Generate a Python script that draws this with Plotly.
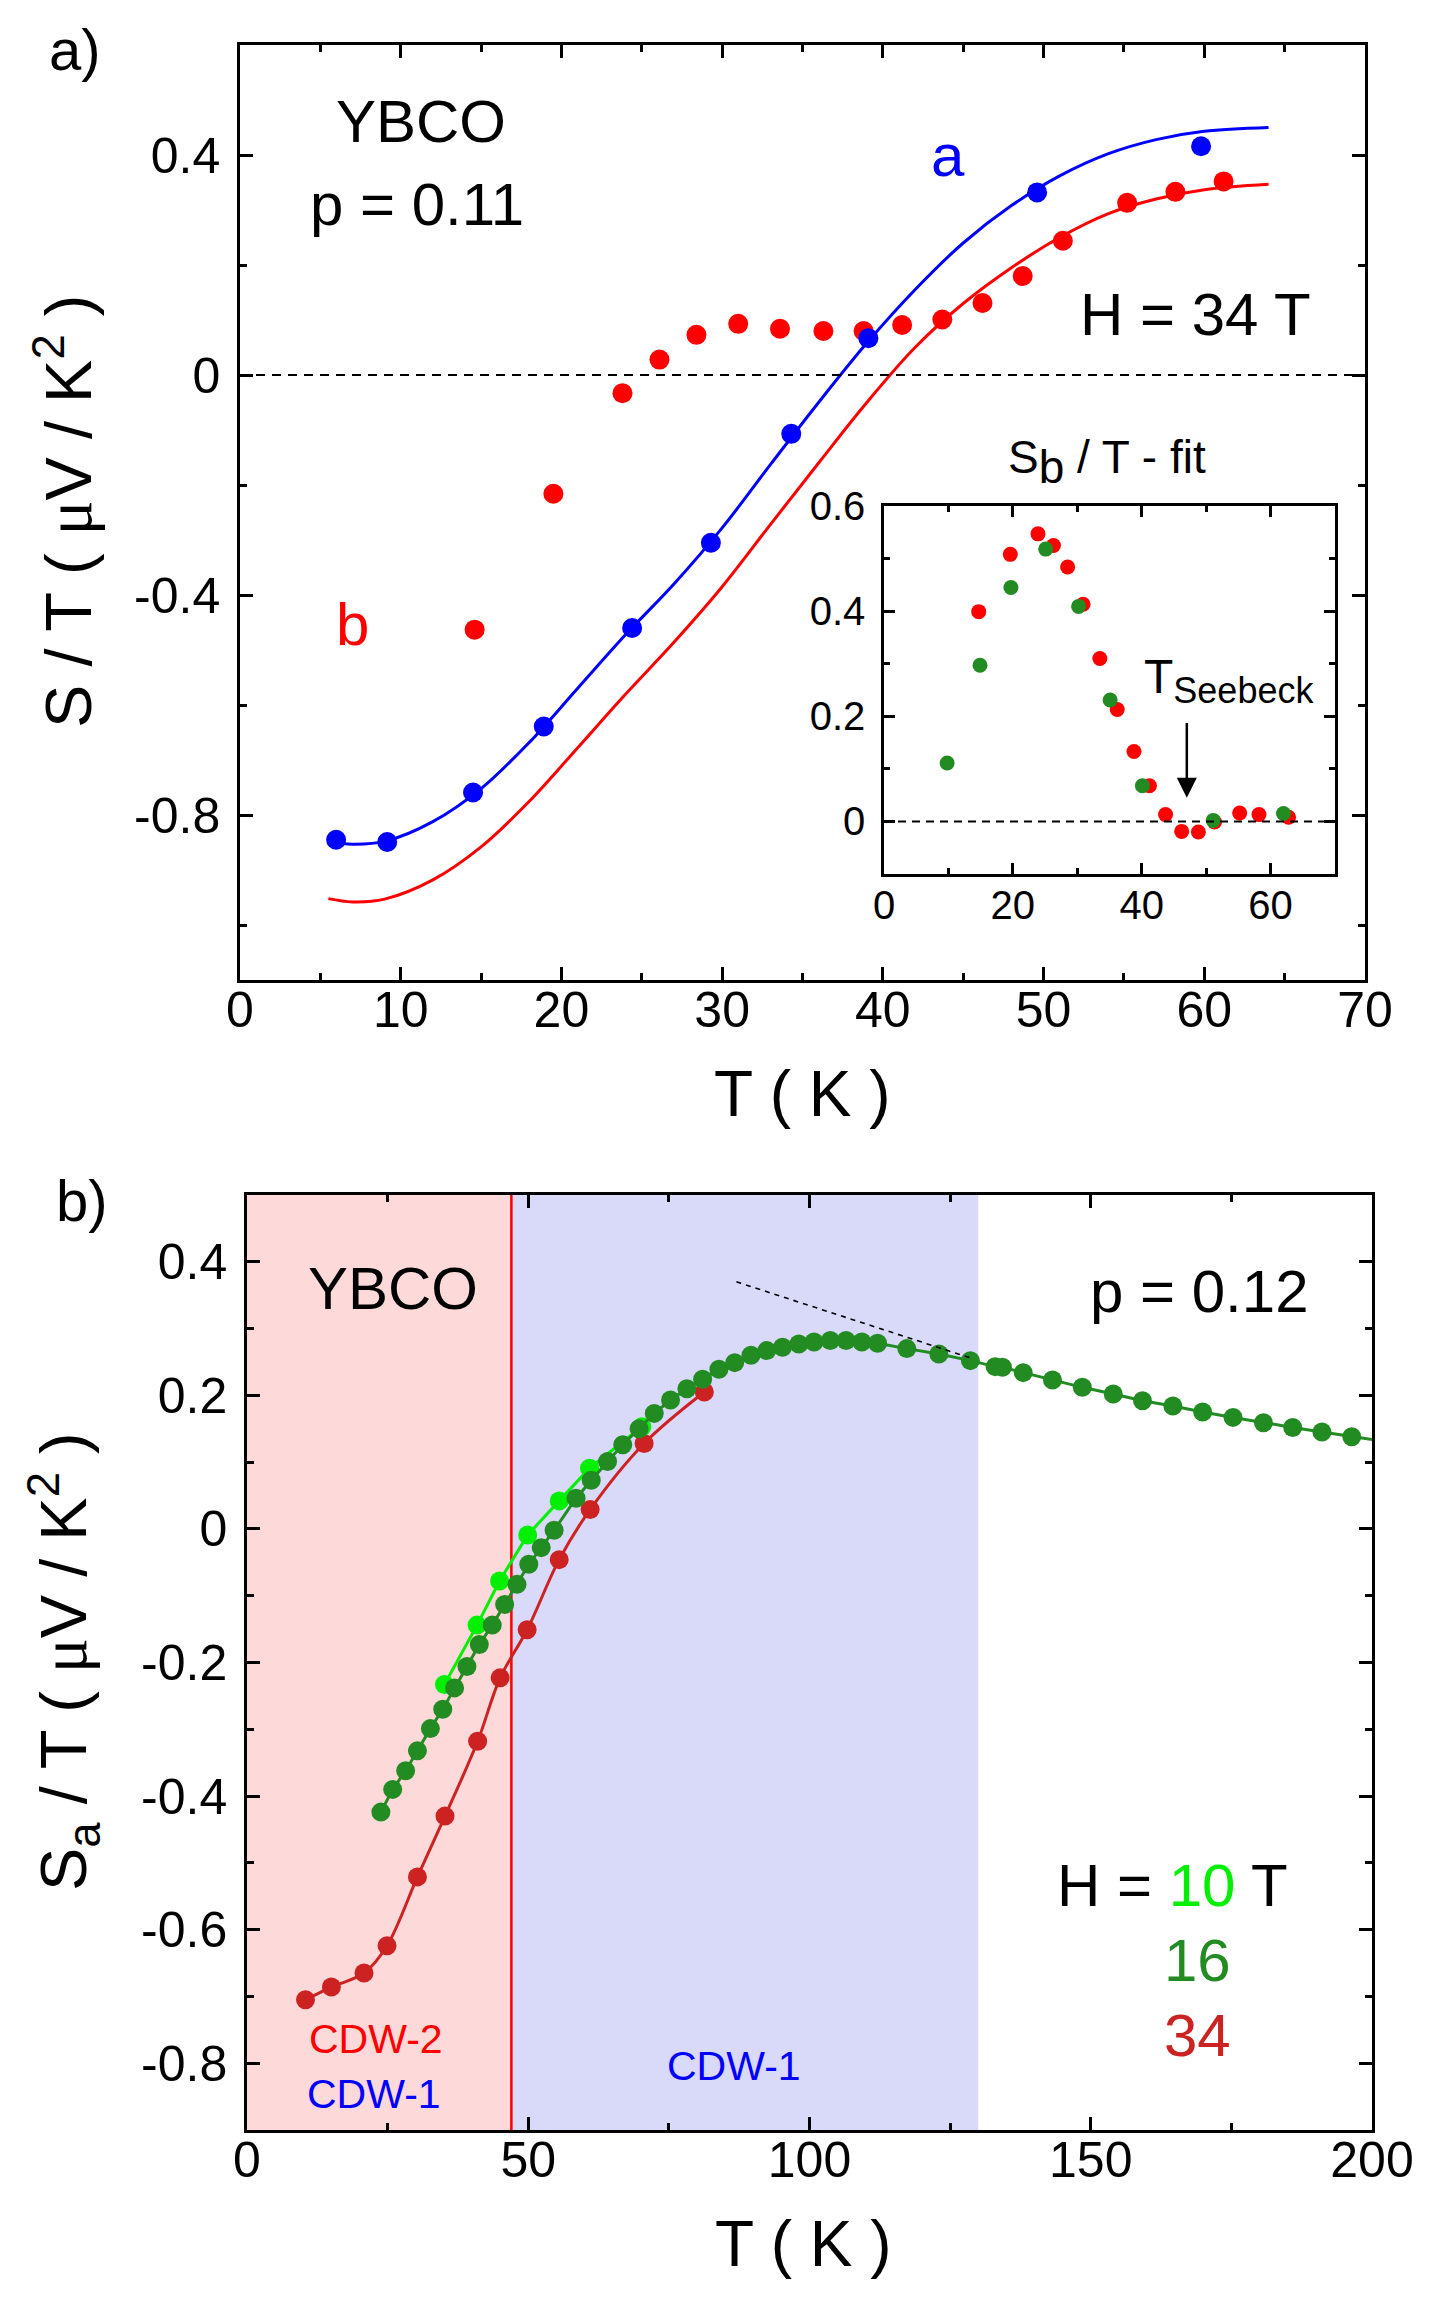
import plotly.graph_objects as go

FONT = "Liberation Sans, Arial, Helvetica, sans-serif"
W, H = 1434, 2300

# ---------------- Panel a data (p = 0.11, H = 34 T) ----------------
a_T = [5.98, 9.16, 14.5, 18.9, 24.4, 29.3, 34.3, 39.1, 49.6, 59.8]
a_S = [-0.845, -0.849, -0.759, -0.639, -0.46, -0.305, -0.107, 0.067, 0.332, 0.416]

b_T = [14.6, 19.5, 23.8, 26.1, 28.4, 31.0, 33.6, 36.3, 38.8, 41.2, 43.7, 46.2,
       48.7, 51.2, 55.2, 58.2, 61.2]
b_S = [-0.463, -0.216, -0.033, 0.028, 0.073, 0.093, 0.084, 0.08, 0.08, 0.091,
       0.101, 0.131, 0.18, 0.244, 0.313, 0.333, 0.352]

fit_T = [5.5, 7, 9, 12, 15, 18, 21, 24, 27, 30, 33, 36, 39, 42, 45, 48, 51, 54,
         57, 60, 64]
fit_a = [-0.848, -0.853, -0.848, -0.812, -0.752, -0.668, -0.57, -0.472, -0.38,
         -0.278, -0.163, -0.05, 0.058, 0.155, 0.24, 0.308, 0.362, 0.402, 0.428,
         0.443, 0.45]
fit_b = [-0.952, -0.958, -0.953, -0.918, -0.858, -0.775, -0.678, -0.58, -0.486,
         -0.385, -0.272, -0.16, -0.05, 0.05, 0.13, 0.195, 0.25, 0.293, 0.32,
         0.337, 0.347]

# ---------------- Inset data (S_b / T - fit) ----------------
inset_red_T = [14.7, 19.6, 23.9, 26.3, 28.5, 30.9, 33.5, 36.2, 38.8, 41.2, 43.7,
               46.2, 48.8, 51.3, 55.2, 58.2, 62.8]
inset_red_S = [0.399, 0.508, 0.547, 0.525, 0.484, 0.413, 0.31, 0.213, 0.133,
               0.068, 0.013, -0.019, -0.02, -0.001, 0.016, 0.013, 0.008]
inset_green_T = [9.8, 14.9, 19.7, 25.1, 30.2, 35.1, 40.1, 51.1, 62.0]
inset_green_S = [0.111, 0.297, 0.445, 0.518, 0.409, 0.231, 0.068, 0.002, 0.015]
T_seebeck = 47.0
arrow_S = [0.19, 0.045]  # tail, tip

# ---------------- Panel b data (p = 0.12) ----------------
h34_T = [10.4, 15.0, 20.8, 24.9, 30.3, 35.2, 41.0, 45.0, 49.8, 55.5, 61.0, 70.6, 81.3]
h34_S = [-0.705, -0.686, -0.665, -0.624, -0.521, -0.43, -0.318, -0.223, -0.151,
         -0.046, 0.029, 0.128, 0.205]

h10_T = [35.1, 40.9, 44.9, 49.9, 55.5, 60.9, 70.2]
h10_S = [-0.233, -0.144, -0.078, -0.009, 0.042, 0.091, 0.153]

h16_T = [23.8, 25.9, 28.2, 30.3, 32.6, 34.8, 36.9, 39.1, 41.3, 43.6, 45.8, 48.0,
         50.1, 52.3, 54.6, 58.5, 61.2, 64.1, 66.8, 69.7, 72.4, 75.3, 78.2, 81.0,
         83.9, 86.7, 89.6, 92.4, 95.2, 98.1, 100.8, 103.7, 106.5, 109.3, 112.1,
         117.3, 123.0, 128.6, 133.0, 134.3, 138.0, 143.2, 148.5, 154.0, 159.2,
         164.6, 169.9, 175.3, 180.7, 185.9, 191.1, 196.4]
h16_S = [-0.424, -0.39, -0.362, -0.332, -0.299, -0.27, -0.238, -0.206, -0.173,
         -0.144, -0.113, -0.083, -0.053, -0.028, -0.002, 0.046, 0.073, 0.101,
         0.126, 0.15, 0.173, 0.193, 0.21, 0.224, 0.239, 0.249, 0.26, 0.267,
         0.272, 0.277, 0.28, 0.282, 0.282, 0.28, 0.278, 0.27, 0.262, 0.252,
         0.243, 0.242, 0.234, 0.223, 0.212, 0.202, 0.192, 0.184, 0.175, 0.167,
         0.159, 0.152, 0.145, 0.138]
h16_line_end_T = [200.0]
h16_line_end_S = [0.134]

tangent_T = [87.0, 129.0]
tangent_S = [0.37, 0.255]

T_cdw2 = 47.0      # boundary CDW-2 / CDW-1
T_cdw1 = 130.0     # end of CDW-1 region

# ---------------- Tick labels ----------------
a_xticks = [0, 10, 20, 30, 40, 50, 60, 70]
a_xlabels = ["0", "10", "20", "30", "40", "50", "60", "70"]
a_yticks = [-0.8, -0.4, 0, 0.4]
a_ylabels = ["-0.8", "-0.4", "0", "0.4"]
in_xticks = [0, 20, 40, 60]
in_xlabels = ["0", "20", "40", "60"]
in_yticks = [0, 0.2, 0.4, 0.6]
in_ylabels = ["0", "0.2", "0.4", "0.6"]
b_xticks = [0, 50, 100, 150, 200]
b_xlabels = ["0", "50", "100", "150", "200"]
b_yticks = [-0.8, -0.6, -0.4, -0.2, 0, 0.2, 0.4]
b_ylabels = ["-0.8", "-0.6", "-0.4", "-0.2", "0", "0.2", "0.4"]

RED = "#ff0000"
BLUE = "#0000ff"
DGREEN = "#228b22"
LGREEN = "#00f000"
DRED = "#cc2222"

fig = go.Figure()

# Panel a
fig.add_trace(go.Scatter(x=fit_T, y=fit_b, mode="lines", line=dict(color=RED, width=3, shape="spline"),
                         xaxis="x", yaxis="y", showlegend=False))
fig.add_trace(go.Scatter(x=b_T, y=b_S, mode="markers", marker=dict(color=RED, size=20),
                         xaxis="x", yaxis="y", showlegend=False))
fig.add_trace(go.Scatter(x=fit_T, y=fit_a, mode="lines", line=dict(color=BLUE, width=3, shape="spline"),
                         xaxis="x", yaxis="y", showlegend=False))
fig.add_trace(go.Scatter(x=a_T, y=a_S, mode="markers", marker=dict(color=BLUE, size=20),
                         xaxis="x", yaxis="y", showlegend=False))

# Inset
fig.add_trace(go.Scatter(x=inset_red_T, y=inset_red_S, mode="markers", marker=dict(color=RED, size=15),
                         xaxis="x2", yaxis="y2", showlegend=False))
fig.add_trace(go.Scatter(x=inset_green_T, y=inset_green_S, mode="markers", marker=dict(color=DGREEN, size=15),
                         xaxis="x2", yaxis="y2", showlegend=False))

# Panel b
fig.add_trace(go.Scatter(x=h34_T, y=h34_S, mode="lines+markers",
                         line=dict(color=DRED, width=3, shape="spline"),
                         marker=dict(color=DRED, size=19), xaxis="x3", yaxis="y3", showlegend=False))
fig.add_trace(go.Scatter(x=h10_T, y=h10_S, mode="lines+markers",
                         line=dict(color=LGREEN, width=3),
                         marker=dict(color=LGREEN, size=19), xaxis="x3", yaxis="y3", showlegend=False))
fig.add_trace(go.Scatter(x=h16_T + h16_line_end_T, y=h16_S + h16_line_end_S, mode="lines",
                         line=dict(color=DGREEN, width=3), xaxis="x3", yaxis="y3", showlegend=False))
fig.add_trace(go.Scatter(x=h16_T, y=h16_S, mode="markers",
                         marker=dict(color=DGREEN, size=19), xaxis="x3", yaxis="y3", showlegend=False))
fig.add_trace(go.Scatter(x=tangent_T, y=tangent_S, mode="lines",
                         line=dict(color="black", width=1.6, dash="5px,5px"),
                         xaxis="x3", yaxis="y3", showlegend=False))


def axis(domain, rng, tickvals, ticktext, minor_dtick, size, standoff, anchor, ticklen=13, mticklen=7):
    return dict(domain=domain, range=rng, tickmode="array", tickvals=tickvals, ticktext=ticktext,
                showline=True, linecolor="black", linewidth=2.5, mirror="ticks",
                ticks="inside", ticklen=ticklen, tickwidth=2.5, tickcolor="black",
                showgrid=False, zeroline=False, anchor=anchor, automargin=False,
                tickfont=dict(family=FONT, size=size, color="black"),
                ticklabelstandoff=standoff,
                minor=dict(ticks="inside", ticklen=mticklen, tickwidth=2.5, tickcolor="black",
                           tickmode="linear", tick0=0, dtick=minor_dtick, showgrid=False))


def px(x):
    return x / W


def py(y):
    return 1 - y / H


fig.update_layout(
    width=W, height=H, autosize=False,
    margin=dict(l=0, r=0, t=0, b=0, pad=0, autoexpand=False),
    paper_bgcolor="white", plot_bgcolor="rgba(0,0,0,0)",
    font=dict(family=FONT, color="black"),
    xaxis=axis([px(240), px(1365)], [0, 70], a_xticks, a_xlabels, 5, 50, -16, "y"),
    yaxis=axis([py(980), py(45)], [-1.1, 0.6], a_yticks, a_ylabels, 0.2, 50, 7, "x"),
    xaxis2=axis([px(884), px(1335)], [0, 70], in_xticks, in_xlabels, 10, 40, -6, "y2", 11, 6),
    yaxis2=axis([py(874), py(506)], [-0.1, 0.6], in_yticks, in_ylabels, 0.1, 40, 8, "x2", 11, 6),
    xaxis3=axis([px(247), px(1372)], [0, 200], b_xticks, b_xlabels, 25, 50, -16, "y3"),
    yaxis3=axis([py(2130), py(1195)], [-0.9, 0.5], b_yticks, b_ylabels, 0.1, 50, 7, "x3"),
)

shapes = [
    dict(type="line", xref="x domain", x0=0, x1=1, yref="y", y0=0, y1=0,
         line=dict(color="black", width=2, dash="9px,7px")),
    dict(type="line", xref="x2 domain", x0=0, x1=1, yref="y2", y0=0, y1=0,
         line=dict(color="black", width=2, dash="8px,6px")),
    dict(type="rect", xref="x3", x0=0, x1=T_cdw2, yref="y3 domain", y0=0, y1=1,
         fillcolor="#fdd9d9", line=dict(width=0), layer="below"),
    dict(type="rect", xref="x3", x0=T_cdw2, x1=T_cdw1, yref="y3 domain", y0=0, y1=1,
         fillcolor="#d9d9fa", line=dict(width=0), layer="below"),
    dict(type="line", xref="x3", x0=T_cdw2, x1=T_cdw2, yref="y3 domain", y0=0, y1=1,
         line=dict(color=RED, width=2.5), layer="below"),
]
fig.update_layout(shapes=shapes)


def txt(text, x, y, size, color="black", xanchor="center", yanchor="middle", angle=0):
    return dict(text=text, x=px(x), y=py(y), xref="paper", yref="paper", showarrow=False,
                xanchor=xanchor, yanchor=yanchor, textangle=angle,
                font=dict(family=FONT, size=size, color=color))


MU = "<span style='font-family:Liberation Serif'>\u03bc</span>"

ann = [
    txt("a)", 75, 50, 58),
    txt("b)", 82, 1200, 58),
    # panel a
    txt("YBCO", 334, 121, 60, xanchor="left"),
    txt("p = 0.11", 308, 204, 60, xanchor="left"),
    txt("a", 948, 156, 60, color=BLUE),
    txt("b", 352, 624, 60, color=RED),
    txt("H = 34 T", 1078, 315, 60, xanchor="left"),
    txt("S / T ( " + MU + "V / K<sup>2</sup> )", 64, 512, 65, angle=-90),
    txt("T ( K )", 802, 1094, 64),
    # inset
    txt("S<sub><span style='font-size:46px'>b</span></sub> / T - fit", 1107, 462, 46),
    txt("T<sub><span style='font-size:36px'>Seebeck</span></sub>", 1142, 680, 48, xanchor="left"),
    # panel b
    txt("YBCO", 306, 1288, 60, xanchor="left"),
    txt("p = 0.12", 1088, 1291, 60, xanchor="left"),
    txt("H = <span style='color:%s'>10</span> T" % LGREEN, 1055, 1885, 60, xanchor="left"),
    txt("16", 1233, 1960, 60, color=DGREEN, xanchor="right"),
    txt("34", 1233, 2035, 60, color=DRED, xanchor="right"),
    txt("CDW-2", 376, 2039, 41, color=RED),
    txt("CDW-1", 374, 2094, 41, color=BLUE),
    txt("CDW-1", 734, 2066, 41, color=BLUE),
    txt("S<sub>a</sub> / T ( " + MU + "V / K<sup>2</sup> )", 64, 1662, 65, angle=-90),
    txt("T ( K )", 803, 2244, 64),
]
ann.append(dict(x=T_seebeck, y=arrow_S[1], ax=T_seebeck, ay=arrow_S[0], xref="x2", yref="y2",
                axref="x2", ayref="y2", text="", showarrow=True, arrowhead=2, arrowsize=1.6,
                arrowwidth=2.5, arrowcolor="black", standoff=0, startstandoff=0))
fig.update_layout(annotations=ann)

fig.write_html("out.html")
